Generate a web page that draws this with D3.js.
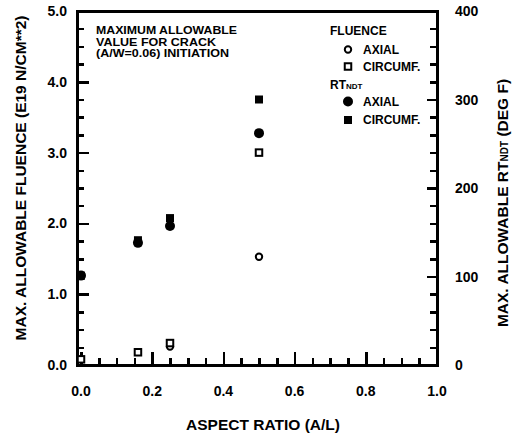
<!DOCTYPE html>
<html><head><meta charset="utf-8">
<script src="https://cdn.jsdelivr.net/npm/d3@7"></script>
<style>
body{margin:0;background:#fff;}
svg text{font-family:"Liberation Sans",Arial,sans-serif;font-weight:bold;fill:#000;}
</style></head>
<body><svg id="c" width="512" height="435"></svg>
<script>
// Data
const aspectRatio = [0.0, 0.16, 0.25, 0.5];
const fluenceAxial = [null, null, 0.26, 1.53];
const fluenceCircumf = [0.08, 0.18, 0.31, 3.0];
const rtAxial = [101, 138, 157, 262];
const rtCircumf = [101, 141, 166, 300];
const xTicks = [0, 0.2, 0.4, 0.6, 0.8, 1.0];
const yLeftTicks = [0, 1, 2, 3, 4, 5];
const yRightTicks = [0, 100, 200, 300, 400];

const svg = d3.select("#c");
const L = 77, R = 437, T = 11, B = 365;
const x = d3.scaleLinear().domain([0, 1.0]).range([81, R]);
const yL = d3.scaleLinear().domain([0, 5]).range([B, T]);
const yR = d3.scaleLinear().domain([0, 400]).range([B, T]);

// axes with inward ticks (d3 axis generators)
function clean(g, w) {
  g.select(".domain").remove();
  g.selectAll(".tick text").remove();
  g.selectAll(".tick line").attr("stroke", "#000").attr("stroke-width", w)
    .attr("shape-rendering", "crispEdges");
}
const leftMinor = d3.range(0, 21).map(i => i * 0.25);
const rightMinor = d3.range(0, 21).map(i => i * 20);
const bottomMinor = d3.range(0, 21).map(i => i * 0.05);
svg.append("g").attr("transform", `translate(${L},0)`)
  .call(d3.axisRight(yL).tickValues(leftMinor).tickSize(7).tickFormat(""))
  .call(g => clean(g, 2.5));
svg.append("g").attr("transform", `translate(${L},0)`)
  .call(d3.axisRight(yL).tickValues(yLeftTicks).tickSize(12).tickFormat(""))
  .call(g => clean(g, 2.5));
svg.append("g").attr("transform", `translate(${R},0)`)
  .call(d3.axisLeft(yR).tickValues(rightMinor).tickSize(7).tickFormat(""))
  .call(g => clean(g, 2.5));
svg.append("g").attr("transform", `translate(${R},0)`)
  .call(d3.axisLeft(yR).tickValues(yRightTicks).tickSize(10).tickFormat(""))
  .call(g => clean(g, 2.5));
svg.append("g").attr("transform", `translate(0,${B})`)
  .call(d3.axisTop(x).tickValues(bottomMinor).tickSize(7).tickFormat(""))
  .call(g => clean(g, 2.5));
svg.append("g").attr("transform", `translate(0,${B})`)
  .call(d3.axisTop(x).tickValues(xTicks).tickSize(13).tickFormat(""))
  .call(g => clean(g, 2.5));

// frame
svg.append("rect").attr("x", L).attr("y", T).attr("width", R - L).attr("height", B - T)
  .attr("fill", "none").attr("stroke", "#000").attr("stroke-width", 3)
  .attr("shape-rendering", "crispEdges");

// tick labels
svg.selectAll(".yl").data(yLeftTicks).enter().append("text")
  .attr("x", 67).attr("y", d => yL(d) + 5).attr("text-anchor", "end")
  .attr("font-size", 14).text(d => d3.format(".1f")(d));
svg.selectAll(".yr").data(yRightTicks).enter().append("text")
  .attr("x", 455).attr("y", d => yR(d) + 5).attr("text-anchor", "start")
  .attr("font-size", 14).text(d => d);
svg.selectAll(".xt").data(xTicks).enter().append("text")
  .attr("x", d => x(d)).attr("y", 396).attr("text-anchor", "middle")
  .attr("font-size", 14).text(d => d3.format(".1f")(d));

// axis titles
svg.append("text").attr("x", 263).attr("y", 430).attr("text-anchor", "middle")
  .attr("font-size", 15.5).text("ASPECT RATIO (A/L)");
svg.append("text").attr("transform", "translate(26,178) rotate(-90)").attr("text-anchor", "middle")
  .attr("font-size", 15.5).text("MAX. ALLOWABLE FLUENCE (E19 N/CM**2)");
const rt = svg.append("text").attr("transform", "translate(508,203) rotate(-90)").attr("text-anchor", "middle")
  .attr("font-size", 15.5);
rt.append("tspan").text("MAX. ALLOWABLE RT");
rt.append("tspan").attr("font-size", 10).text("NDT");
rt.append("tspan").text(" (DEG F)");

// annotation
const ann = ["MAXIMUM ALLOWABLE", "VALUE FOR CRACK", "(A/W=0.06) INITIATION"];
const annW = [141, 120, 133];
svg.selectAll(".ann").data(ann).enter().append("text")
  .attr("x", 96).attr("y", (d, i) => 34 + i * 11.5).attr("font-size", 10)
  .attr("textLength", (d, i) => annW[i]).attr("lengthAdjust", "spacingAndGlyphs")
  .text(d => d);

// markers
function circ(cx, cy, filled) {
  svg.append("circle").attr("cx", cx).attr("cy", cy).attr("r", filled ? 5 : 3.2)
    .attr("fill", filled ? "#000" : "#fff").attr("stroke", "#000").attr("stroke-width", filled ? 0 : 2);
}
function sq(cx, cy, filled) {
  const s = filled ? 8 : 6.5;
  svg.append("rect").attr("x", cx - s / 2).attr("y", cy - s / 2).attr("width", s).attr("height", s)
    .attr("fill", filled ? "#000" : "#fff").attr("stroke", "#000").attr("stroke-width", filled ? 0 : 2);
}
aspectRatio.forEach((a, i) => { if (rtCircumf[i] != null) sq(x(a), yR(rtCircumf[i]), true); });
aspectRatio.forEach((a, i) => { if (rtAxial[i] != null) circ(x(a), yR(rtAxial[i]), true); });
aspectRatio.forEach((a, i) => { if (fluenceAxial[i] != null) circ(x(a), yL(fluenceAxial[i]), false); });
aspectRatio.forEach((a, i) => { if (fluenceCircumf[i] != null) sq(x(a), yL(fluenceCircumf[i]), false); });

// legend
function ltext(x0, y0, t) {
  return svg.append("text").attr("x", x0).attr("y", y0).attr("font-size", 12).text(t);
}
ltext(330, 35, "FLUENCE");
circ(348, 49.5, false); ltext(363, 54, "AXIAL");
sq(348, 66.5, false); ltext(363, 71, "CIRCUMF.");
const rtl = svg.append("text").attr("x", 330).attr("y", 89).attr("font-size", 12);
rtl.append("tspan").text("RT");
rtl.append("tspan").attr("font-size", 8).text("NDT");
circ(348, 101.5, true); ltext(363, 106, "AXIAL");
sq(348, 120, true); ltext(363, 124, "CIRCUMF.");
</script></body></html>
